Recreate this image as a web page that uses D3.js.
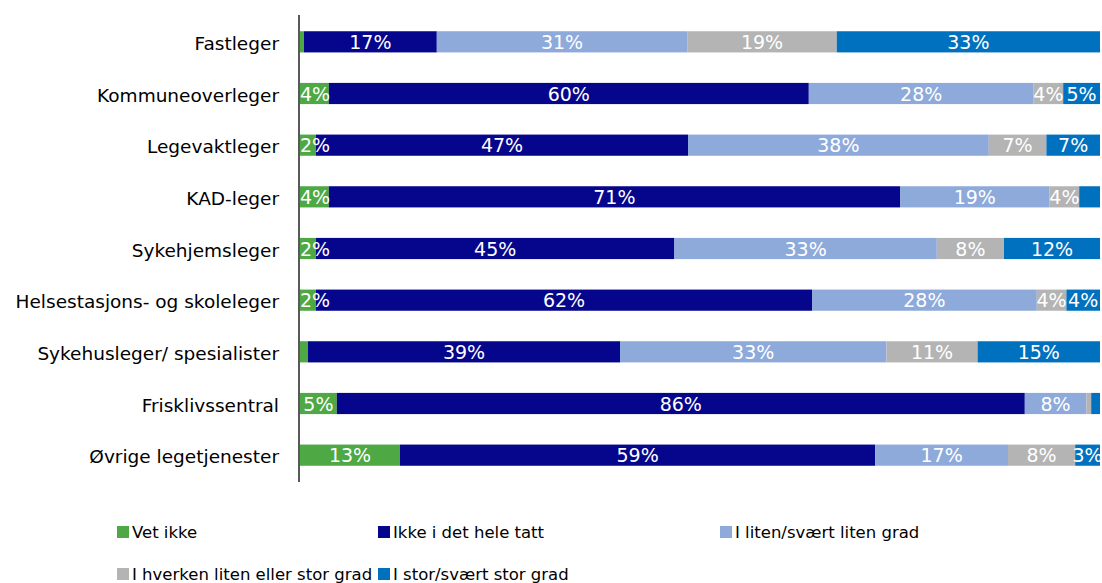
<!DOCTYPE html>
<html>
<head>
<meta charset="utf-8">
<script src="https://cdn.jsdelivr.net/npm/d3@7"></script>
<style>
	body { margin: 0; background: #fff; }
	svg { display: block; font-family: "DejaVu Sans", sans-serif; }
	.cat-label { font-family: "DejaVu Sans", sans-serif; font-size: 18.5px; fill: #000; }
	.val-label { font-size: 19px; fill: #fff; }
	.legend text { font-size: 16.5px; fill: #000; }
</style>
</head>
<body>
<svg id="chart" width="1102" height="583"></svg>
<script>
// categories, top to bottom
const categories = [
	'Fastleger',
	'Kommuneoverleger',
	'Legevaktleger',
	'KAD-leger',
	'Sykehjemsleger',
	'Helsestasjons- og skoleleger',
	'Sykehusleger/ spesialister',
	'Frisklivssentral',
	'Øvrige legetjenester'
];

const seriesNames = [
	'Vet ikke',
	'Ikke i det hele tatt',
	'I liten/svært liten grad',
	'I hverken liten eller stor grad',
	'I stor/svært stor grad'
];

const seriesColors = ['#4ea843', '#06068c', '#8eaadb', '#b4b4b4', '#0071bf'];

// shares in percent, one list per series (same order as categories)
const vetIkke      = [0.5, 3.6, 2.0, 3.6, 2.0, 2.0, 1.0, 4.6, 12.5];
const ikkeHeleTatt = [16.6, 60.0, 46.5, 71.4, 44.8, 62.0, 39.0, 86.0, 59.4];
const litenGrad    = [31.3, 28.1, 37.6, 18.7, 32.8, 28.1, 33.3, 7.7, 16.6];
const hverkenGrad  = [18.7, 3.7, 7.2, 3.7, 8.4, 3.7, 11.4, 0.6, 8.4];
const storGrad     = [32.9, 4.6, 6.7, 2.6, 12.0, 4.2, 15.3, 1.1, 3.1];

// labels that were left out of the original: [category index, series index]
const hiddenLabels = [
	[0, 0], [6, 0], [7, 3], [7, 4], [3, 4]
];

const seriesValues = [vetIkke, ikkeHeleTatt, litenGrad, hverkenGrad, storGrad];

const svg = d3.select('#chart');

const margin = {top: 16, left: 300, right: 2, bottom: 102};
const width = 1102 - margin.left - margin.right,
	height = 583 - margin.top - margin.bottom;

// build a table for the stack layout
const table = categories.map(function(cat, i) {
	let row = {category: cat, idx: i};
	seriesNames.forEach(function(s, j) {
		row[s] = seriesValues[j][i];
	});
	return row;
});

const stack = d3.stack().keys(seriesNames);
const layers = stack(table);

const x = d3.scaleLinear()
	.domain([0, 100])
	.range([margin.left, margin.left + width]);

const y = d3.scaleBand()
	.domain(categories)
	.range([margin.top, margin.top + height])
	.paddingInner(0.59)
	.paddingOuter(0.295);

const color = d3.scaleOrdinal()
	.domain(seriesNames)
	.range(seriesColors);

// bars
const layerG = svg.append('g')
	.selectAll('g')
	.data(layers)
	.enter()
	.append('g')
	.attr('fill', function(d) { return color(d.key); });

layerG.selectAll('rect')
	.data(function(d) { return d; })
	.enter()
	.append('rect')
	.attr('x', function(d) { return x(d[0]); })
	.attr('y', function(d) { return y(d.data.category); })
	.attr('width', function(d) { return x(d[1]) - x(d[0]); })
	.attr('height', y.bandwidth());

// value labels
function isHidden(catIdx, seriesIdx) {
	return hiddenLabels.some(function(h) {
		return h[0] === catIdx && h[1] === seriesIdx;
	});
}

layers.forEach(function(layer, j) {
	svg.append('g')
		.selectAll('text')
		.data(layer.filter(function(d) { return !isHidden(d.data.idx, j); }))
		.enter()
		.append('text')
		.attr('class', 'val-label')
		.attr('y', function(d) { return y(d.data.category) + y.bandwidth() / 2; })
		.attr('dy', '0.38em')
		.attr('text-anchor', 'middle')
		.text(function(d) { return Math.round(d[1] - d[0]) + '%'; })
		.attr('x', function(d) {
			// centered, but never sticking out to the left of the axis
			let half = this.getComputedTextLength() / 2,
				mid = (x(d[0]) + x(d[1])) / 2;
			return Math.max(mid, x(0) + half);
		});
});

// y axis: line plus category labels
const yAxis = d3.axisLeft(y)
	.tickSize(0)
	.tickPadding(20);

const axisG = svg.append('g')
	.attr('transform', 'translate(' + (margin.left - 1) + ',0)')
	.attr('font-family', null)
	.attr('font-size', null)
	.call(yAxis);

axisG.select('.domain')
	.attr('stroke', '#595959')
	.attr('stroke-width', 2)
	.attr('d', 'M0,' + (margin.top - 1) + 'V' + (margin.top + height + 1));

axisG.selectAll('.tick text')
	.attr('class', 'cat-label')
	.attr('dy', '0.45em')
	.attr('fill', null);

// legend
const legendCols = [117, 378, 720],
	legendRows = [532, 574];

const legend = svg.append('g')
	.attr('class', 'legend')
	.selectAll('g')
	.data(seriesNames)
	.enter()
	.append('g')
	.attr('transform', function(d, i) {
		return 'translate(' + legendCols[i % 3] + ',' + legendRows[Math.floor(i / 3)] + ')';
	});

legend.append('rect')
	.attr('x', 0)
	.attr('y', -6)
	.attr('width', 12)
	.attr('height', 12)
	.attr('fill', function(d) { return color(d); });

legend.append('text')
	.attr('x', 15)
	.attr('dy', '0.36em')
	.text(function(d) { return d; });
</script>
</body>
</html>
